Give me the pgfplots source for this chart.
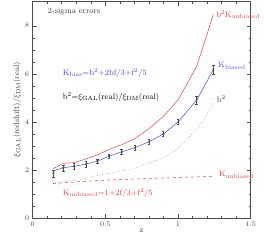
\documentclass[border=0pt]{standalone}
\usepackage{pgfplots}
\pgfplotsset{compat=1.18}
\definecolor{cred}{RGB}{240,60,60}
\definecolor{cblue}{RGB}{70,70,240}
\begin{document}
\begin{tikzpicture}
\begin{axis}[
  scale only axis, width=218pt, height=216pt,
  xmin=0, xmax=1.5, ymin=0, ymax=9,
  xtick={0,0.5,1,1.5}, xticklabels={0,0.5,1,1.5},
  ytick={0,2,4,6,8},
  minor x tick num=4, minor y tick num=3,
  tick align=inside, ticks=both,
  major tick length=4pt, minor tick length=2pt,
  axis line style={draw=black!70, line width=0.4pt},
  tick style={draw=black!70, line width=0.4pt},
  tick label style={font=\fontsize{7}{8}\selectfont, text=black!75},
  xlabel={z}, ylabel={$\xi_{\rm GAL}$(redshift)/$\xi_{\rm DM}$(real)},
  label style={font=\fontsize{8}{9}\selectfont, text=black!75},
  xlabel style={yshift=4pt},
  ylabel style={yshift=-3pt},
  clip=false,
]
% b^2 K_unbiased (red solid)
\addplot[cred, line width=0.5pt] coordinates {
(0.143,2.05) (0.212,2.27) (0.285,2.30) (0.366,2.45) (0.446,2.62) (0.526,2.85) (0.613,3.05) (0.704,3.30) (0.801,3.72) (0.899,4.22) (1.002,4.92) (1.128,6.30) (1.243,8.46)};
% K_biased line (blue)
\addplot[cblue, line width=0.5pt] coordinates {
(0.143,1.96) (0.212,2.09) (0.285,2.14) (0.366,2.24) (0.446,2.36) (0.526,2.57) (0.613,2.75) (0.704,2.92) (0.801,3.17) (0.899,3.49) (1.002,4.00) (1.128,4.90) (1.243,6.17)};
% measured points with 2-sigma errors
\addplot[black!70, only marks, mark=x, mark size=1.2pt, line width=0.4pt,
  error bars/.cd, y dir=both, y explicit, error mark options={rotate=90, mark size=1.2pt, black!70}]
  coordinates {
(0.143,1.85) +- (0,0.15)
(0.212,2.08) +- (0,0.13)
(0.285,2.15) +- (0,0.12)
(0.366,2.24) +- (0,0.12)
(0.446,2.36) +- (0,0.10)
(0.526,2.57) +- (0,0.10)
(0.613,2.75) +- (0,0.10)
(0.704,2.92) +- (0,0.10)
(0.801,3.17) +- (0,0.10)
(0.899,3.49) +- (0,0.10)
(1.002,4.00) +- (0,0.10)
(1.128,4.90) +- (0,0.15)
(1.243,6.17) +- (0,0.20)};
% b^2 (dotted)
\addplot[black!60, dotted, line width=0.5pt] coordinates {
(0.14,1.46) (0.30,1.55) (0.46,1.78) (0.69,2.05) (0.90,2.50) (1.00,2.89) (1.10,3.50) (1.17,4.00) (1.24,4.77)};
% K_unbiased (red dashed)
\addplot[cred, dashed, line width=0.5pt] coordinates {
(0.14,1.43) (0.30,1.50) (0.50,1.57) (0.75,1.63) (1.00,1.68) (1.25,1.73)};
% labels
\node[anchor=west, text=black!75, font=\fontsize{8}{9}\selectfont] at (axis cs:0.08,8.58) {2-sigma errors};
\node[anchor=west, text=cred, font=\fontsize{8}{9}\selectfont, inner sep=1pt] at (axis cs:1.255,8.45) {b$^2$K$_{\rm unbiased}$};
\node[anchor=west, text=cblue, font=\fontsize{8}{9}\selectfont, inner sep=1pt] at (axis cs:1.27,6.33) {K$_{\rm biased}$};
\node[anchor=west, text=cblue, font=\fontsize{8}{9}\selectfont, inner sep=1pt] at (axis cs:0.20,6.04) {K$_{\rm bias}$=b$^2$+2bf/3+f$^2$/5};
\node[anchor=west, text=black, font=\fontsize{8}{9}\selectfont, inner sep=1pt] at (axis cs:0.20,5.04) {b$^2$=$\xi_{\rm GAL}$(real)/$\xi_{\rm DM}$(real)};
\node[anchor=west, text=black!75, font=\fontsize{8}{9}\selectfont, inner sep=1pt] at (axis cs:1.26,4.95) {b$^2$};
\node[anchor=west, text=cred, font=\fontsize{8}{9}\selectfont, inner sep=1pt] at (axis cs:1.275,1.79) {K$_{\rm unbiased}$};
\node[anchor=west, text=cred, font=\fontsize{8}{9}\selectfont, inner sep=1pt] at (axis cs:0.20,1.04) {K$_{\rm unbiased}$=1+2f/3+f$^2$/5};
\end{axis}
\path ([xshift=-32.5pt,yshift=-26pt]current axis.south west) rectangle ([xshift=13.3pt,yshift=1.7pt]current axis.north east);
\end{tikzpicture}
\end{document}
